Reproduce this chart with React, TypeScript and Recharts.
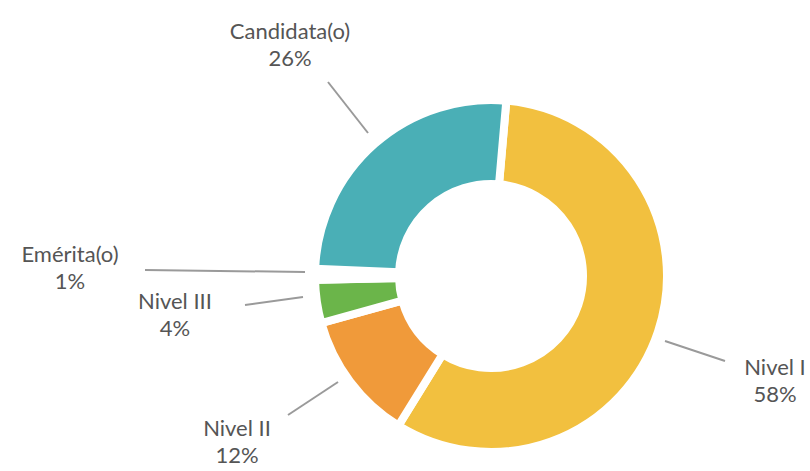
import React from 'react';
import { PieChart, Pie, Cell } from 'recharts';

const categorias = ['Nivel I', 'Nivel II', 'Nivel III', 'Emérita(o)', 'Candidata(o)'];
const porcentajes = [58, 12, 4, 1, 26];

const data = categorias.map((nombre, i) => ({ nombre, valor: porcentajes[i] }));

const COLORS = ['#F2C03F', '#F09A3A', '#6BB54A', '#FFFFFF', '#4AAFB6'];

// posiciones de etiquetas relativas al centro (línea inicio, línea fin, texto)
const ETIQUETAS: Record<string, { l1: [number, number]; l2: [number, number]; t: [number, number] }> = {
  'Nivel I': { l1: [174, 65], l2: [234, 85], t: [284, 99] },
  'Nivel II': { l1: [-153, 106], l2: [-203, 139], t: [-254, 160] },
  'Nivel III': { l1: [-188, 21], l2: [-246, 29], t: [-316, 33] },
  'Emérita(o)': { l1: [-186, -4], l2: [-346, -6], t: [-421, -14] },
  'Candidata(o)': { l1: [-123, -143], l2: [-163, -194], t: [-201, -237] },
};

const renderEtiqueta = (props: any) => {
  const { cx, cy, name, value } = props;
  const e = ETIQUETAS[name];
  if (!e) return null;
  return (
    <g>
      <line
        x1={cx + e.l1[0]}
        y1={cy + e.l1[1]}
        x2={cx + e.l2[0]}
        y2={cy + e.l2[1]}
        stroke="#9a9a9a"
        strokeWidth={2}
      />
      <text x={cx + e.t[0]} y={cy + e.t[1]} textAnchor="middle" fill="#555" fontSize={22}>
        {name === 'Nivel II' ? 'Nivel  II' : name}
      </text>
      <text x={cx + e.t[0]} y={cy + e.t[1] + 27} textAnchor="middle" fill="#555" fontSize={22}>
        {`${value}%`}
      </text>
    </g>
  );
};

export default function App() {
  return (
    <div style={{ position: 'absolute', left: 0, top: 0, background: '#fff' }}>
      <PieChart width={810} height={471} style={{ fontFamily: 'Lato, sans-serif' }}>
        <Pie
          data={data}
          dataKey="valor"
          nameKey="nombre"
          cx={486}
          cy={271}
          innerRadius={92}
          outerRadius={176}
          startAngle={85}
          endAngle={-275}
          stroke="#fff"
          strokeWidth={8}
          labelLine={false}
          label={renderEtiqueta}
          isAnimationActive={false}
        >
          {data.map((entry, index) => (
            <Cell key={`cell-${index}`} fill={COLORS[index % COLORS.length]} />
          ))}
        </Pie>
      </PieChart>
    </div>
  );
}
